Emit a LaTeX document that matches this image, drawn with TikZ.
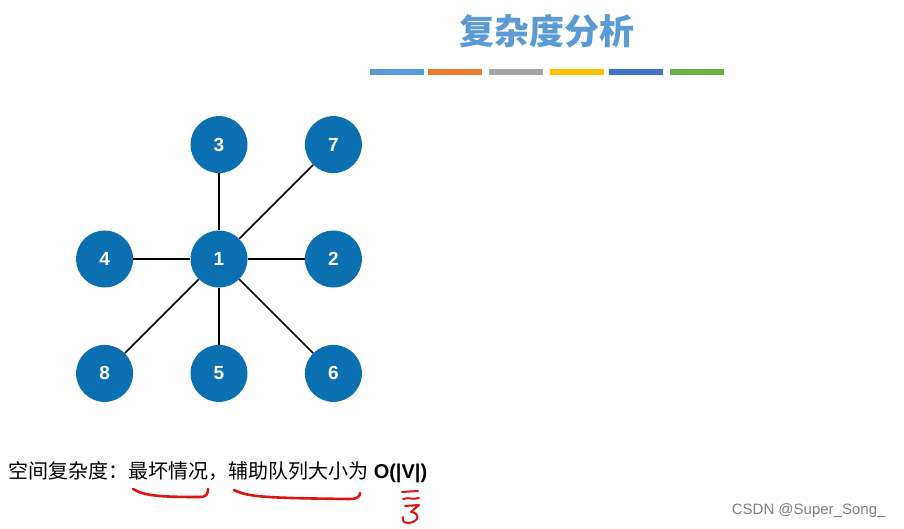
\documentclass[tikz,border=0pt]{standalone}
\usepackage{fontspec}
\setmainfont{Liberation Sans}
\newfontfamily\cjk{Noto Sans CJK SC}
\usepackage{tikz}
\usetikzlibrary{
    positioning,                      % right=of, below=of, etc.
    arrows.meta
}
\definecolor{nodeblue}{RGB}{11,111,176}
\definecolor{titleblue}{RGB}{91,155,213}
\definecolor{barA}{RGB}{91,155,213}
\definecolor{barB}{RGB}{237,125,49}
\definecolor{barC}{RGB}{165,165,165}
\definecolor{barD}{RGB}{255,192,0}
\definecolor{barE}{RGB}{68,114,196}
\definecolor{barF}{RGB}{112,173,71}
\definecolor{penred}{RGB}{220,20,20}

\begin{document}
\begin{tikzpicture}[
        x=1pt, y=-1pt,
        node distance=57pt,
        vertex/.style={circle, fill=nodeblue, text=white, minimum size=57pt, inner sep=0pt, font=\bfseries\fontsize{19}{19}\selectfont},
        edge/.style={draw=black, line width=1.5pt},
        bar/.style={line width=5.5pt},
        pen/.style={draw=penred, line width=2.6pt, line cap=round, line join=round}]
        \useasboundingbox (0,0) rectangle (904,529);
        % title
        \node[font=\cjk\bfseries\fontsize{35}{35}\selectfont, text=titleblue] (title) at (547,31) {复杂度分析};
        \foreach \x/\c in {370/barA, 428/barB, 489/barC, 550/barD, 609/barE, 670/barF}
            \draw[bar, \c] (\x,72) -- ++(54,0);
        % graph
        \node[vertex] (n1) at (219,259) {1};
        \node[vertex, above=of n1] (n3) {3};
        \node[vertex, right=of n1] (n2) {2};
        \node[vertex, left=of n1]  (n4) {4};
        \node[vertex, below=of n1] (n5) {5};
        \node[vertex, right=of n3] (n7) {7};
        \node[vertex, below=of n4] (n8) {8};
        \node[vertex, right=of n5] (n6) {6};
        \draw[edge] (n1) -- (n3);
        \draw[edge] (n1) -- (n7);
        \draw[edge] (n1) -- (n2);
        \draw[edge] (n1) -- (n4);
        \draw[edge] (n1) -- (n8);
        \draw[edge] (n1) -- (n5);
        \draw[edge] (n1) -- (n6);
        % complexity text
        \node[anchor=west, inner sep=0pt, font=\fontsize{20}{20}\selectfont] (space) at (8,472)
            {{\cjk 空间复杂度：最坏情况，辅助队列大小为} \textbf{O(|V|)}};
        % red pen marks
        \draw[pen] (133,489) .. controls (145,496) and (160,497) .. (200,497) .. controls (207,497) and (208,493) .. (208,489);
        \draw[pen] (234,490) .. controls (248,497) and (265,498) .. (350,499) .. controls (358,499) and (360,496) .. (360,493);
        \draw[pen, line width=2pt] (402,492) -- (418,491);
        \draw[pen, line width=2pt] (403,499) .. controls (408,497) and (413,500) .. (419,498);
        \draw[pen, line width=2pt] (405,506) -- (419,505) -- (411,512) .. controls (420,513) and (420,521) .. (409,523) .. controls (404,523) and (402,521) .. (403,517);
        % watermark
        \node[anchor=east, text=black!50, font=\fontsize{15}{15}\selectfont] (mark) at (889,511) {CSDN @Super\_Song\_};
\end{tikzpicture}
\end{document}
